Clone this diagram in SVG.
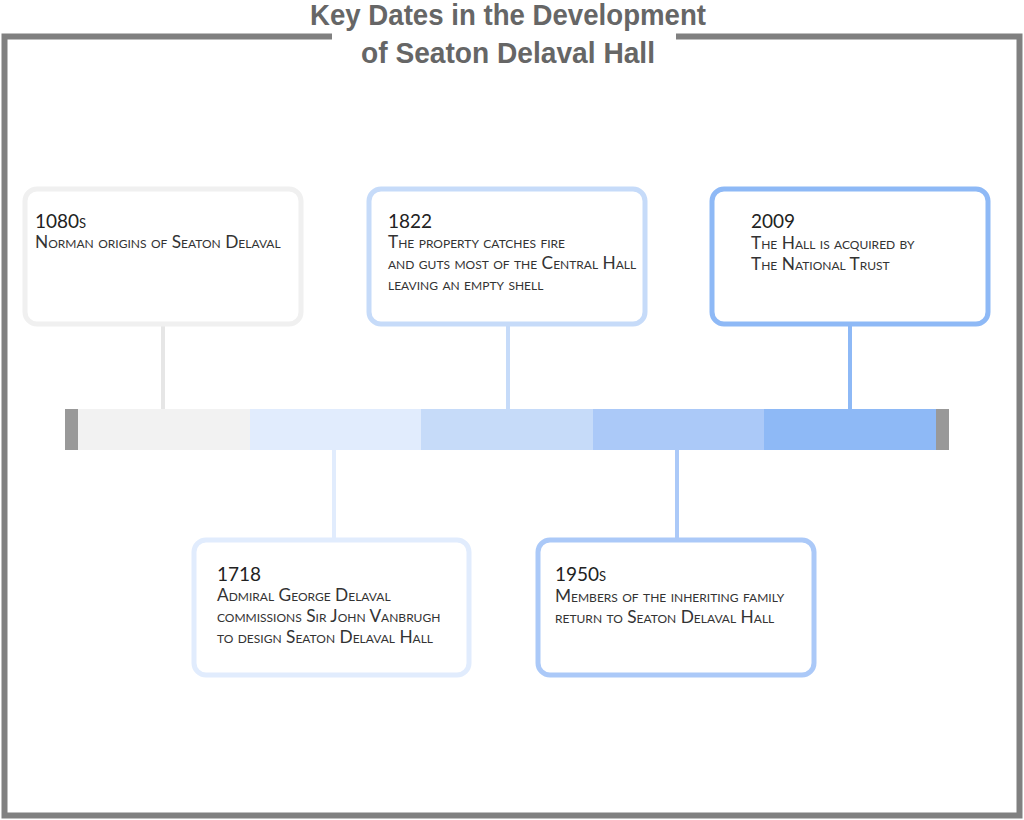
<svg xmlns="http://www.w3.org/2000/svg" width="1024" height="820" viewBox="0 0 1024 820">
<style>
.title{font-family:"Liberation Sans",Arial,sans-serif;font-weight:bold;font-size:30px;fill:#666;text-anchor:middle}
.box{fill:#fff;stroke-width:5}
.t{font-family:Lato,"Liberation Sans",sans-serif;font-variant:small-caps;fill:#333;font-size:17.3px}
.d{font-size:19px;fill:#222}
.c{stroke-width:4;fill:none}
</style>
<rect width="1024" height="820" fill="#fff"/>
<g id="frame" fill="none" stroke="#808080" stroke-width="6">
<polyline points="332,36.5 4.5,36.5 4.5,815.5 1019.5,815.5 1019.5,36.5 676,36.5"/>
</g>
<g id="title">
<text class="title" x="508" y="25" textLength="396" lengthAdjust="spacingAndGlyphs">Key Dates in the Development</text>
<text class="title" x="508" y="63" textLength="294" lengthAdjust="spacingAndGlyphs">of Seaton Delaval Hall</text>
</g>
<g id="connectors">
<line class="c" x1="163" y1="326" x2="163" y2="409" stroke="#e6e6e6"/>
<line class="c" x1="508" y1="326" x2="508" y2="409" stroke="#c6dbf9"/>
<line class="c" x1="850" y1="326" x2="850" y2="409" stroke="#8eb9f6"/>
<line class="c" x1="334" y1="450" x2="334" y2="538" stroke="#e1ecfd"/>
<line class="c" x1="677" y1="450" x2="677" y2="538" stroke="#abc9f8"/>
</g>
<g id="timeline">
<rect x="65" y="409" width="13" height="41" fill="#999"/>
<rect x="78" y="409" width="172" height="41" fill="#f2f2f2"/>
<rect x="250" y="409" width="171" height="41" fill="#e1ecfd"/>
<rect x="421" y="409" width="172" height="41" fill="#c6dbf9"/>
<rect x="593" y="409" width="171" height="41" fill="#abc9f8"/>
<rect x="764" y="409" width="172" height="41" fill="#8eb9f6"/>
<rect x="936" y="409" width="13" height="41" fill="#999"/>
</g>
<g id="node-1080s">
<rect class="box" x="25" y="189" width="276" height="135" rx="12" stroke="#f0f0f0"/>
<text class="t d" x="35" y="228">1080s</text>
<text class="t" x="35" y="248">Norman origins of Seaton Delaval</text>
</g>
<g id="node-1822">
<rect class="box" x="369" y="189" width="276" height="135" rx="12" stroke="#c6dbf9"/>
<text class="t d" x="388" y="228">1822</text>
<text class="t" x="388" y="248">The property catches fire</text>
<text class="t" x="388" y="269">and guts most of the Central Hall</text>
<text class="t" x="388" y="290">leaving an empty shell</text>
</g>
<g id="node-2009">
<rect class="box" x="712" y="189" width="276" height="135" rx="12" stroke="#8eb9f6"/>
<text class="t d" x="751" y="228">2009</text>
<text class="t" x="751" y="249">The Hall is acquired by</text>
<text class="t" x="751" y="270">The National Trust</text>
</g>
<g id="node-1718">
<rect class="box" x="194" y="540" width="275" height="135" rx="12" stroke="#e1ecfd"/>
<text class="t d" x="217" y="581">1718</text>
<text class="t" x="217" y="601">Admiral George Delaval</text>
<text class="t" x="217" y="622">commissions Sir John Vanbrugh</text>
<text class="t" x="217" y="643">to design Seaton Delaval Hall</text>
</g>
<g id="node-1950s">
<rect class="box" x="538" y="540" width="276" height="135" rx="12" stroke="#abc9f8"/>
<text class="t d" x="555" y="581">1950s</text>
<text class="t" x="555" y="602">Members of the inheriting family</text>
<text class="t" x="555" y="623">return to Seaton Delaval Hall</text>
</g>
</svg>
